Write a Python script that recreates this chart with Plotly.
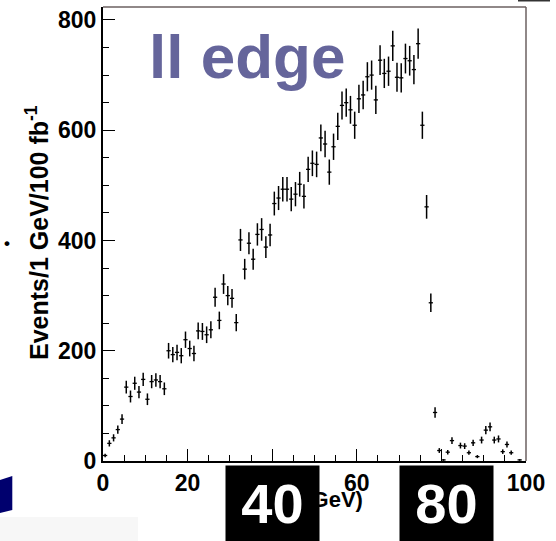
import numpy as np
import plotly.graph_objects as go

# ---- data (1 GeV bins, 0..100 GeV) ----
bin_low_edges = list(range(0, 100))
events = [10, 32, 42, 57, 76, 134, 117, 141, 125, 148,
          112, 144, 147, 144, 131, 200, 193, 197, 191, 220,
          204, 195, 236, 235, 229, 238, 297, 255, 321, 300,
          295, 251, 401, 348, 395, 366, 411, 420, 388, 410,
          467, 477, 493, 493, 475, 484, 502, 480, 529, 540,
          538, 586, 575, 524, 570, 607, 645, 650, 637, 609,
          657, 664, 697, 700, 655, 727, 703, 707, 753, 696,
          695, 730, 726, 710, 757, 609, 461, 287, 88, 19,
          2, 16, 37, 0, 28, 27, 15, 33, 8, 38,
          56, 62, 38, 40, 17, 30, 15, 0, 2, 0]
x_tick_vals = [0, 20, 40, 60, 80, 100]
x_tick_text = ["0", "20", "", "60", "", "100"]
y_tick_vals = [0, 200, 400, 600, 800]
y_tick_text = ["0", "200", "400", "600", "800"]
box_labels = ["40", "80"]

W, H = 556, 541
L, R, T, B = 103, 30, 7, 80


def px(x):
    return (x - L) / (W - L - R)


def py(y):
    return (H - B - y) / (H - T - B)


centers = [e + 0.5 for e in bin_low_edges]
vals = [v if v > 0 else None for v in events]
errs = [float(np.sqrt(v)) if v > 0 else 0 for v in events]

fig = go.Figure()
fig.add_trace(go.Scatter(
    x=centers, y=vals, mode="markers",
    marker=dict(size=1, color="black"),
    error_y=dict(type="data", array=errs, visible=True, color="black", thickness=1.5, width=0),
    error_x=dict(type="constant", value=0.5, visible=True, color="black", thickness=1.3, width=0),
    showlegend=False, hoverinfo="skip",
))

tickfont = dict(family="Liberation Sans, Arial, sans-serif", size=23, color="black", weight="bold")

fig.update_layout(
    width=W, height=H,
    margin=dict(l=L, r=R, t=T, b=B, pad=0),
    paper_bgcolor="white", plot_bgcolor="white",
    xaxis=dict(range=[0, 100], showgrid=False, zeroline=False,
               showline=True, linecolor="black", linewidth=2,
               ticks="inside", ticklen=12, tickwidth=1.3, tickcolor="black",
               tickvals=x_tick_vals, ticktext=x_tick_text, tickfont=tickfont,
               minor=dict(ticks="inside", ticklen=6, tickwidth=1.1, tickcolor="black", dtick=5, showgrid=False)),
    yaxis=dict(range=[0, 823.5], showgrid=False, zeroline=False,
               showline=True, linecolor="black", linewidth=2,
               ticks="inside", ticklen=12, tickwidth=1.3, tickcolor="black",
               tickvals=y_tick_vals, ticktext=y_tick_text, tickfont=tickfont,
               minor=dict(ticks="inside", ticklen=6, tickwidth=1.1, tickcolor="black", dtick=50, showgrid=False)),
)

shapes = [
    # top and right frame
    dict(type="line", xref="paper", yref="paper", x0=0, x1=1, y0=1, y1=1,
         line=dict(color="#6b6060", width=1.5)),
    dict(type="line", xref="paper", yref="paper", x0=1, x1=1, y0=0, y1=1,
         line=dict(color="#6b6060", width=1.5)),
    # navy slide decoration bottom-left
    dict(type="path", xref="paper", yref="paper",
         path=f"M {px(0)} {py(480)} L {px(12.3)} {py(476)} L {px(12.3)} {py(510)} L {px(0)} {py(513)} Z",
         fillcolor="#00006e", line=dict(width=0)),
    # light grey strip bottom-left
    dict(type="rect", xref="paper", yref="paper", x0=px(0), x1=px(138), y0=py(541), y1=py(517),
         fillcolor="#f7f7f7", line=dict(width=0), layer="below"),
    # tiny dark mark top right
    dict(type="rect", xref="paper", yref="paper", x0=px(518), x1=px(550), y0=py(1.5), y1=py(0),
         fillcolor="#333333", line=dict(width=0)),
]
fig.update_layout(shapes=shapes)

bold = dict(family="Liberation Sans, Arial, sans-serif", color="black", weight="bold")
ann = [
    dict(text="ll edge", x=px(247), y=py(57), xref="paper", yref="paper",
         xanchor="center", yanchor="middle", showarrow=False,
         font=dict(family="Liberation Sans, Arial, sans-serif", size=62, color="#65659b", weight="bold")),
    dict(text="Events/1 GeV/100 fb<sup>-1</sup>", x=px(37), y=py(233), xref="paper", yref="paper",
         xanchor="center", yanchor="middle", showarrow=False, textangle=-90,
         font=dict(size=25, **bold)),
    dict(text="•", x=px(7), y=py(243), xref="paper", yref="paper",
         xanchor="center", yanchor="middle", showarrow=False,
         font=dict(size=17, **bold)),
    dict(text="m<sub>ll</sub> (GeV)", x=px(365), y=py(501), xref="paper", yref="paper",
         xanchor="right", yanchor="middle", showarrow=False,
         font=dict(size=22, **bold)),
]
for lbl, (x0, x1) in zip(box_labels, [(226, 319), (400, 493)]):
    ann.append(dict(text=lbl, x=px((x0 + x1) / 2), y=py((466 + 541) / 2), xref="paper", yref="paper",
                    xanchor="center", yanchor="middle", showarrow=False,
                    width=x1 - x0, height=541 - 466, bgcolor="black", borderpad=0,
                    font=dict(family="Liberation Sans Narrow, Arial Narrow, Liberation Sans, sans-serif",
                              size=56, color="white", weight="bold")))
fig.update_layout(annotations=ann)

fig.write_html("out.html")
